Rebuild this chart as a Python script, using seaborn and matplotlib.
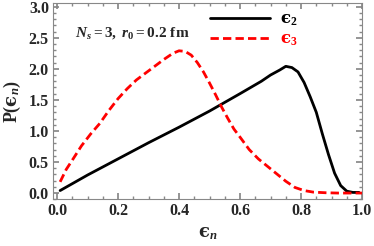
import numpy as np
import pandas as pd
import seaborn as sns
import matplotlib.pyplot as plt
from matplotlib.ticker import MultipleLocator

# values
eps2_x = [0.01, 0.1, 0.2, 0.3, 0.4, 0.5, 0.6, 0.67, 0.70, 0.73, 0.75, 0.77, 0.79, 0.81, 0.83, 0.85, 0.87,
	0.89, 0.91, 0.93, 0.95, 0.97, 0.99]
eps2_y = [0.04, 0.29, 0.55, 0.81, 1.06, 1.32, 1.60, 1.80, 1.90, 1.98, 2.04, 2.02, 1.95, 1.78, 1.55, 1.30, 0.95,
	0.62, 0.32, 0.12, 0.03, 0.01, 0.01]
eps3_x = [0.01, 0.03, 0.05, 0.08, 0.11, 0.14, 0.17, 0.20, 0.23, 0.26, 0.29, 0.32, 0.35, 0.38, 0.40, 0.42,
	0.44, 0.46, 0.48, 0.50, 0.52, 0.54, 0.56, 0.58, 0.60, 0.63, 0.66, 0.69, 0.72, 0.75, 0.78, 0.81, 0.84,
	0.88, 0.92, 1.0]
eps3_y = [0.18, 0.38, 0.53, 0.76, 0.95, 1.12, 1.33, 1.52, 1.68, 1.82, 1.93, 2.04, 2.15, 2.25, 2.29, 2.28,
	2.22, 2.10, 1.95, 1.77, 1.58, 1.38, 1.20, 1.03, 0.90, 0.70, 0.55, 0.43, 0.31, 0.19, 0.09, 0.04, 0.015,
	0.005, 0.0, 0.0]

df = pd.concat([
	pd.DataFrame({'x': eps2_x, 'y': eps2_y, 'series': 'e2'}),
	pd.DataFrame({'x': eps3_x, 'y': eps3_y, 'series': 'e3'}),
], ignore_index=True)

sns.set_theme(style='ticks')
plt.rcParams['font.family'] = ['Liberation Serif', 'DejaVu Serif']
plt.rcParams['font.weight'] = 'bold'
plt.rcParams['mathtext.fontset'] = 'custom'
plt.rcParams['mathtext.rm'] = 'Liberation Serif:bold'
plt.rcParams['mathtext.it'] = 'Liberation Serif:italic:bold'
plt.rcParams['mathtext.bf'] = 'Liberation Serif:bold'
plt.rcParams['mathtext.sf'] = 'DejaVu Serif:bold'

fig, ax = plt.subplots(figsize=(3.74, 2.46), dpi=100)
sns.lineplot(data=df[df.series == 'e2'], x='x', y='y', color='black', lw=2, ax=ax, label=r'$\mathsf{ϵ}_\mathbf{2}$')
sns.lineplot(data=df[df.series == 'e3'], x='x', y='y', color='red', lw=2, ls=(0, (3, 1.5)), ax=ax, label=r'$\mathsf{ϵ}_\mathbf{3}$')

ax.set_xlim(-0.013, 1.0)
ax.set_ylim(-0.1, 3.06)
ax.xaxis.set_major_locator(MultipleLocator(0.2))
ax.xaxis.set_minor_locator(MultipleLocator(0.05))
ax.yaxis.set_major_locator(MultipleLocator(0.5))
ax.yaxis.set_minor_locator(MultipleLocator(0.1))
ax.xaxis.set_major_formatter(plt.FormatStrFormatter('%.1f'))
ax.yaxis.set_major_formatter(plt.FormatStrFormatter('%.1f'))
ax.tick_params(which='both', direction='in', top=True, right=True, labelsize=11.5, color='#888888', pad=3)
ax.tick_params(which='major', length=4)
ax.tick_params(which='minor', length=2)
for s in ax.spines.values():
	s.set_color('#888888')
	s.set_linewidth(0.8)

ax.set_xlabel(r'$\mathsf{ϵ}_n$', fontsize=13, labelpad=4)
ax.set_ylabel(r'$\mathbf{P(}\mathsf{ϵ}_n\mathbf{)}$', fontsize=13, labelpad=4)
ax.text(0.06, 2.52, r'$N_s\mathbf{=3,}\ r_0\mathbf{=0.2\ fm}$', fontsize=11)

leg = ax.legend(loc='upper right', frameon=False, fontsize=12, handlelength=3.6, bbox_to_anchor=(0.84, 1.03),
	labelspacing=0.2, handletextpad=0.6)
for t, c in zip(leg.get_texts(), ['black', 'red']):
	t.set_color(c)

plt.subplots_adjust(left=0.142, right=0.968, top=0.988, bottom=0.19)
plt.savefig('out.png', dpi=100)
